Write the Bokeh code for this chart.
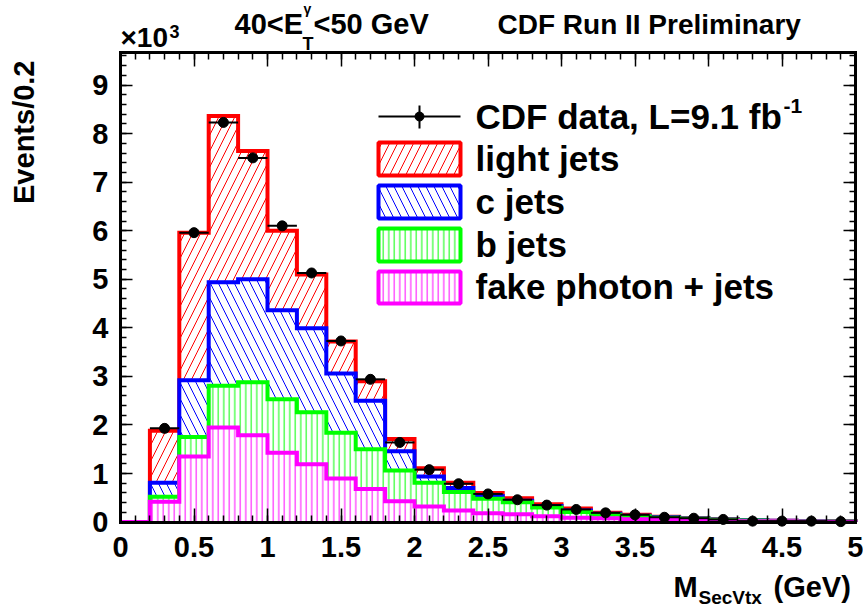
import math
from bokeh.plotting import figure
from bokeh.models import Range1d, FixedTicker, LinearAxis, Label, CustomJSTickFormatter
from bokeh.embed import file_html
from bokeh.resources import INLINE

nan = float("nan")

# M_SecVtx bin edges (GeV), 0.2 GeV wide
bin_edges = [0.0, 0.2, 0.4, 0.6, 0.8, 1.0, 1.2, 1.4, 1.6, 1.8, 2.0, 2.2, 2.4,
             2.6, 2.8, 3.0, 3.2, 3.4, 3.6, 3.8, 4.0, 4.2, 4.4, 4.6, 4.8, 5.0]

# template contributions, events / 0.2 GeV in units of 10^3
light_jets = [0.0, 1.07, 3.04, 3.42, 2.64, 1.64, 1.11, 0.66, 0.40, 0.25, 0.17, 0.11, 0.06,
              0.05, 0.04, 0.04, 0.02, 0.02, 0.01, 0.005, 0.005, 0.003, 0.002, 0.001, 0.001]
c_jets = [0.0, 0.29, 1.17, 2.13, 2.12, 1.83, 1.73, 1.22, 1.00, 0.40, 0.13, 0.08, 0.06,
          0.03, 0.03, 0.03, 0.02, 0.01, 0.01, 0.005, 0.005, 0.003, 0.002, 0.001, 0.001]
b_jets = [0.0, 0.10, 0.40, 0.86, 1.09, 1.10, 1.07, 0.94, 0.82, 0.63, 0.49, 0.38, 0.30,
          0.25, 0.18, 0.12, 0.07, 0.06, 0.04, 0.03, 0.02, 0.014, 0.01, 0.008, 0.005]
fake_photon = [0.0, 0.42, 1.35, 1.95, 1.79, 1.43, 1.19, 0.90, 0.68, 0.43, 0.32, 0.24, 0.18,
               0.16, 0.12, 0.09, 0.08, 0.06, 0.05, 0.04, 0.03, 0.02, 0.015, 0.012, 0.008]

# CDF data with statistical uncertainties
data_counts = [nan, 1.93, 5.96, 8.23, 7.50, 6.10, 5.13, 3.73, 2.94, 1.64, 1.08, 0.79, 0.58,
               0.46, 0.35, 0.26, 0.19, 0.15, 0.10, 0.08, 0.055, 0.02, 0.02, 0.02, 0.01]
data_errors = [nan, 0.04, 0.08, 0.09, 0.09, 0.08, 0.07, 0.06, 0.05, 0.04, 0.03, 0.03, 0.02,
               0.02, 0.02, 0.02, 0.01, 0.01, 0.01, 0.01, 0.01, 0.005, 0.005, 0.005, 0.005]

x_ticks = [0, 0.5, 1, 1.5, 2, 2.5, 3, 3.5, 4, 4.5, 5]
y_ticks = [0, 1, 2, 3, 4, 5, 6, 7, 8, 9]

legend_labels = ["light jets", "c jets", "b jets", "fake photon + jets"]

X_MAX, Y_MAX = 5.0, 9.67
FONT = "Liberation Sans"
W, H = 863, 607

# pixel position of the histogram frame on the page
FL, FR, FT, FB = 120, 855, 52, 521.6


def dx(px):
    return (px - FL) / (FR - FL) * X_MAX


def dy(py):
    return (FB - py) / (FB - FT) * Y_MAX


# the plot area spans the whole page; the axes are pinned to the frame edges
p = figure(width=W, height=H, x_range=Range1d(dx(0), dx(W)), y_range=Range1d(dy(H), dy(0)),
           output_backend="svg", toolbar_location=None, min_border=0,
           x_axis_location=None, y_axis_location=None)
p.grid.visible = False
p.outline_line_color = None
p.background_fill_color = "white"
p.border_fill_color = "white"

x_minor = [round(0.1 * i, 1) for i in range(0, 51)]
y_minor = [round(0.2 * i, 1) for i in range(0, 49)]
xticker = FixedTicker(ticks=x_ticks, minor_ticks=x_minor)
yticker = FixedTicker(ticks=y_ticks, minor_ticks=y_minor)
fmt = CustomJSTickFormatter(code="return String(tick)")


def make_axis(side, ticker, loc, bounds, maj, mnr, standoff):
    labels = standoff is not None
    ax = LinearAxis(ticker=ticker, formatter=fmt, fixed_location=loc, bounds=bounds,
                    major_tick_in=maj, major_tick_out=0, minor_tick_in=mnr, minor_tick_out=0,
                    major_tick_line_width=1.5, minor_tick_line_width=1.5,
                    axis_line_width=3, axis_line_cap="square",
                    major_label_text_font=FONT, major_label_text_font_style="bold",
                    major_label_text_font_size="29px" if labels else "0px",
                    major_label_text_color="black" if labels else None,
                    major_label_standoff=standoff if labels else 0)
    p.add_layout(ax, side)
    return ax


make_axis("below", xticker, 0, (0, X_MAX), 14, 7, 15)
make_axis("above", xticker, Y_MAX, (0, X_MAX), 14, 7, None)
make_axis("left", yticker, 0, (0, Y_MAX), 12, 6, 12)
make_axis("right", yticker, X_MAX, (0, Y_MAX), 12, 6, None)


def step_path(edges, tops):
    xs, ys = [edges[0]], [0.0]
    for i, t in enumerate(tops):
        xs += [edges[i], edges[i + 1]]
        ys += [t, t]
    xs.append(edges[-1])
    ys.append(0.0)
    return xs, ys


# cumulative stack, drawn from the total down to the bottom component
n = len(light_jets)
stack_fake = list(fake_photon)
stack_b = [stack_fake[i] + b_jets[i] for i in range(n)]
stack_c = [stack_b[i] + c_jets[i] for i in range(n)]
stack_light = [stack_c[i] + light_jets[i] for i in range(n)]

layers = [
    (stack_light, "#ff0000", "/", 16),
    (stack_c, "#0000ff", "\\", 16),
    (stack_b, "#00ff00", "|", 5.5),
    (stack_fake, "#ff00ff", "|", 5.5),
]
for tops, col, pat, sc in layers:
    xs, ys = step_path(bin_edges, tops)
    p.patch(xs, ys, fill_color="white", hatch_pattern=pat, hatch_color=col,
            hatch_scale=sc, hatch_weight=1, line_color=None)
    p.line(xs, ys, line_color=col, line_width=4, line_join="miter")

# data points
centers = [(bin_edges[i] + bin_edges[i + 1]) / 2 for i in range(n)]
lefts = bin_edges[:-1]
rights = bin_edges[1:]
lo = [d - e for d, e in zip(data_counts, data_errors)]
hi = [d + e for d, e in zip(data_counts, data_errors)]
p.segment(x0=lefts, x1=rights, y0=data_counts, y1=data_counts, line_color="black", line_width=2)
p.segment(x0=centers, x1=centers, y0=lo, y1=hi, line_color="black", line_width=2)
p.scatter(centers, data_counts, size=10, marker="circle", fill_color="black", line_color="black")

# offset between the label anchor and the drawn baseline, as a fraction of the font size
BASE_SHIFT = 0.345


def text(px, py, s, size, vertical=False, **kw):
    """Place bold text with its baseline at page pixel (px, py)."""
    if vertical:
        px = px - BASE_SHIFT * size
    else:
        py = py - BASE_SHIFT * size
    p.add_layout(Label(x=dx(px), y=dy(py), text=s, text_font=FONT, text_font_style="bold",
                       text_font_size=f"{size}px", text_color="black",
                       text_baseline="alphabetic", **kw))


# legend
lg_x0, lg_x1 = 378, 460
p.segment(x0=[dx(lg_x0)], x1=[dx(lg_x1)], y0=[dy(116)], y1=[dy(116)], line_color="black", line_width=2)
p.segment(x0=[dx(419)], x1=[dx(419)], y0=[dy(105)], y1=[dy(128)], line_color="black", line_width=2)
p.scatter([dx(419)], [dy(116)], size=9, marker="circle", fill_color="black", line_color="black")
text(475, 128, "CDF data, L=9.1 fb", 35)
text(783, 113, "-1", 21)

box_rows = [(142, 175, 170), (185, 218, 213), (228, 261, 256), (271, 303, 298)]
for (top_px, bot_px, base_px), (_, col, pat, sc), lab in zip(box_rows, layers, legend_labels):
    p.quad(left=[dx(lg_x0)], right=[dx(lg_x1)], top=[dy(top_px)], bottom=[dy(bot_px)],
           fill_color="white", hatch_pattern=pat, hatch_color=col, hatch_scale=sc,
           hatch_weight=1, line_color=col, line_width=4)
    text(475, base_px, lab, 35)

# titles above the frame
text(234, 34, "40<E", 29)
text(302, 50, "T", 18)
text(303, 13, "\u03b3", 14)
text(313, 34, "<50 GeV", 29)
text(497, 34, "CDF Run II Preliminary", 28)
text(120, 47, "\u00d710", 28)
text(169, 37, "3", 18)

# axis titles
text(34, 60, "Events/0.2", 29, vertical=True, angle=math.pi / 2, text_align="right")
text(673, 597, "M", 29)
text(698, 604, "SecVtx", 19)
text(773, 597, "(GeV)", 29)

open("out.html", "w").write(file_html(p, INLINE))
